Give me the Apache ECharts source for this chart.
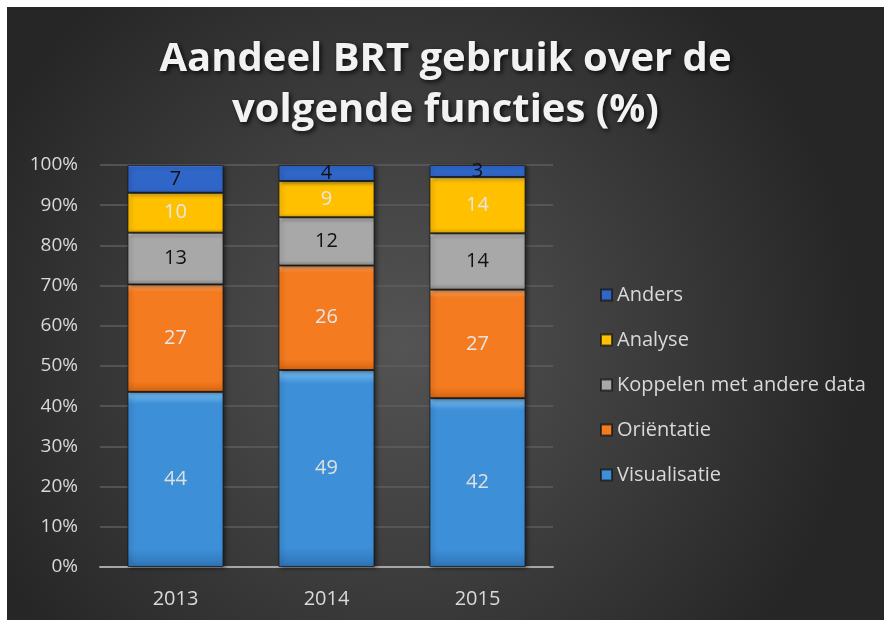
<!DOCTYPE html>
<html>
<head>
<meta charset="utf-8">
<script src="https://cdn.jsdelivr.net/npm/echarts@6/dist/echarts.min.js"></script>
<style>
  html, body { margin: 0; padding: 0; background: #ffffff; }
  #chart { position: absolute; left: 7px; top: 7px; width: 877px; height: 613px; }
</style>
</head>
<body>
<div id="chart"></div>
<script>
// jaren op de x-as
var jaren = ['2013', '2014', '2015'];

// aandelen per functie (%), zoals in de labels
var visualisatie = [44, 49, 42];
var orientatie = [27, 26, 27];
var koppelen = [13, 12, 14];
var analyse = [10, 9, 14];
var anders = [7, 4, 3];

var yTicks = [0, 10, 20, 30, 40, 50, 60, 70, 80, 90, 100];

var reeksen = [
    { naam: 'Visualisatie', waarden: visualisatie, kleur: '#3d8fd8', licht: '#7cc0f2', donker: '#2f74b5', label: '#e0e0e0' },
    { naam: 'Oriëntatie', waarden: orientatie, kleur: '#f47b20', licht: '#fbac6c', donker: '#d9660f', label: '#e6e6e6' },
    { naam: 'Koppelen met andere data', waarden: koppelen, kleur: '#a8a8a8', licht: '#ebebeb', donker: '#8c8c8c', label: '#111111' },
    { naam: 'Analyse', waarden: analyse, kleur: '#ffc000', licht: '#ffe680', donker: '#e0a800', label: '#e6e6e6' },
    { naam: 'Anders', waarden: anders, kleur: '#3066c8', licht: '#78a6ec', donker: '#2451a3', label: '#111111' }
];

// totalen per jaar, zodat de staven op 100% uitkomen
var totalen = jaren.map(function (j, i) {
    return reeksen.reduce(function (s, r) { return s + r.waarden[i]; }, 0);
});

var chart = echarts.init(document.getElementById('chart'));

var series = reeksen.map(function (r) {
    return {
        name: r.naam,
        type: 'bar',
        stack: 'totaal',
        barWidth: 96,
        data: r.waarden.map(function (v, i) {
            return { value: v / totalen[i] * 100, ruw: v };
        }),
        itemStyle: {
            color: new echarts.graphic.LinearGradient(0, 0, 0, 1, [
                { offset: 0, color: r.licht },
                { offset: 0.07, color: r.kleur },
                { offset: 0.9, color: r.kleur },
                { offset: 1, color: r.donker }
            ]),
            borderColor: 'rgba(20,20,20,0.7)',
            borderWidth: 1,
            shadowColor: 'rgba(0,0,0,0.5)',
            shadowBlur: 4,
            shadowOffsetX: 2,
            shadowOffsetY: 1
        },
        label: {
            show: true,
            position: 'inside',
            color: r.label,
            fontFamily: 'Open Sans',
            fontSize: 20,
            formatter: function (p) { return p.data.ruw; }
        }
    };
});

chart.setOption({
    backgroundColor: new echarts.graphic.RadialGradient(0.45, 0.55, 0.75, [
        { offset: 0, color: '#545454' },
        { offset: 1, color: '#262626' }
    ]),
    animation: false,
    title: {
        text: 'Aandeel BRT gebruik over de\nvolgende functies (%)',
        left: 'center',
        top: 22,
        textStyle: {
            color: '#f2f2f2',
            fontFamily: 'Open Sans',
            fontWeight: 'bold',
            fontSize: 40,
            lineHeight: 51,
            textShadowColor: 'rgba(0,0,0,0.8)',
            textShadowBlur: 5,
            textShadowOffsetX: 2,
            textShadowOffsetY: 2
        }
    },
    legend: {
        orient: 'vertical',
        left: 588,
        top: 272,
        itemWidth: 11,
        itemHeight: 11,
        itemGap: 23,
        icon: 'rect',
        data: ['Anders', 'Analyse', 'Koppelen met andere data', 'Oriëntatie', 'Visualisatie'],
        textStyle: { color: '#d9d9d9', fontFamily: 'Open Sans', fontSize: 20, lineHeight: 22 }
    },
    grid: { left: 93, top: 158, width: 453, height: 402 },
    xAxis: {
        type: 'category',
        data: jaren,
        axisLine: { lineStyle: { color: '#a6a6a6', width: 2 } },
        axisTick: { show: false },
        axisLabel: { color: '#d9d9d9', fontFamily: 'Open Sans', fontSize: 20, margin: 22 }
    },
    yAxis: {
        type: 'value',
        min: yTicks[0],
        max: yTicks[yTicks.length - 1],
        interval: 10,
        axisLine: { show: false },
        axisTick: { show: false },
        splitLine: { lineStyle: { color: '#5e5e5e', width: 1.5 } },
        axisLabel: {
            color: '#d9d9d9',
            fontFamily: 'Open Sans',
            fontSize: 19,
            margin: 22,
            formatter: '{value}%'
        }
    },
    series: series
});
</script>
</body>
</html>
